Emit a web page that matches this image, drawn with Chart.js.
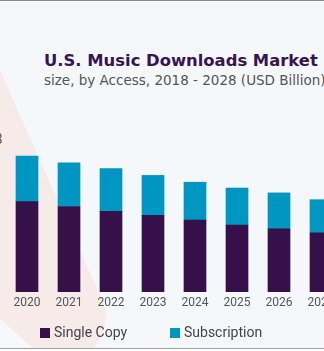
<!DOCTYPE html>
<html>
<head>
<meta charset="utf-8">
<script src="https://cdn.jsdelivr.net/npm/chart.js@4.4.1/dist/chart.umd.min.js"></script>
<style>
  html, body { margin: 0; padding: 0; }
  body { width: 324px; height: 351px; overflow: hidden; background: #fff; position: relative; }
  #frame { position: absolute; left: 0; top: 0; width: 324px; height: 349px; background: #f4f8fb;
           border-top: 1px solid #8a8a8a; border-bottom: 1px solid #a0a0a0; box-sizing: border-box; overflow: hidden; }
  #blob { position: absolute; left: -10.5px; top: -111px; width: 130px; height: 450px;
          border-radius: 0 0 45px 60px; background: #f6ebe8;
          transform-origin: 100% 100%; transform: rotate(-24deg); }
  #band { position: absolute; left: -74px; top: 251px; width: 260px; height: 120px; background: #f6f9fb;
          transform-origin: 0 0; transform: rotate(42deg); }
  #title { position: absolute; left: 44px; top: 49.5px; white-space: nowrap; line-height: 1;
           font: bold 16.4px "DejaVu Sans", sans-serif; color: #381450; }
  #subtitle { position: absolute; left: 44px; top: 71px; white-space: nowrap; line-height: 1;
              font: 13.5px "DejaVu Sans", sans-serif; color: #555; }
  #wrap { position: absolute; left: -78px; top: -1px; width: 462px; height: 348px; }
  #legend { position: absolute; top: 323px; left: 0; width: 324px; height: 16px;
            font: 14px Roboto, sans-serif; color: #444; }
  #legend span { position: absolute; top: 0; line-height: 16px; white-space: nowrap; }
  #legend i { display: inline-block; width: 10px; height: 10px; margin-right: 4px; vertical-align: -1px; }
</style>
</head>
<body>
<div id="frame">
  <div id="blob"></div>
  <div id="band"></div>
  <div id="title">U.S. Music Downloads Market</div>
  <div id="subtitle">size, by Access, 2018 - 2028 (USD Billion)</div>
  <div id="wrap"><canvas id="graph" width="462" height="348"></canvas></div>
  <div id="legend"></div>
</div>
<script>
// 年
var years = ['2018', '2019', '2020', '2021', '2022', '2023', '2024', '2025', '2026', '2027', '2028'];
// USD Billion
var singleCopy   = [1.03, 0.96, 0.93, 0.88, 0.83, 0.79, 0.74, 0.69, 0.65, 0.61, 0.57];
var subscription = [0.50, 0.47, 0.47, 0.45, 0.44, 0.41, 0.39, 0.38, 0.37, 0.34, 0.31];
var seriesNames  = ['Single Copy', 'Subscription'];
var seriesColors = ['#361049', '#0096c2'];
var labelYears   = ['2019', '2028']; // 合計値を表示する年

// 棒の上に合計値を書く
var totalLabels = {
    id: 'totalLabels',
    afterDatasetsDraw: function(chart) {
        var ctx = chart.ctx;
        var x = chart.scales.x, y = chart.scales.y;
        ctx.save();
        ctx.font = '14px Roboto';
        ctx.fillStyle = '#555';
        ctx.textAlign = 'center';
        ctx.textBaseline = 'bottom';
        labelYears.forEach(function(yr) {
            var i = years.indexOf(yr);
            var total = singleCopy[i] + subscription[i];
            ctx.fillText(total.toFixed(2), x.getPixelForValue(i) + 4, y.getPixelForValue(total) - 6);
        });
        ctx.restore();
    }
};

var ctx = document.getElementById('graph').getContext('2d');
var myChart = new Chart(ctx, {
    type: 'bar',
    data: {
        labels: years,
        datasets: [
            {
                label: seriesNames[0],
                data: singleCopy,
                backgroundColor: seriesColors[0],
                barThickness: 22
            },
            {
                label: seriesNames[1],
                data: subscription,
                backgroundColor: seriesColors[1],
                barThickness: 22
            }
        ]
    },
    options: {
        responsive: false,
        animation: false,
        layout: { padding: { top: 121, left: 0, right: 0, bottom: 33.6 } },
        plugins: {
            tooltip: { enabled: false },
            title: { display: false },
            legend: { display: false }
        },
        scales: {
            x: {
                stacked: true,
                grid: { display: false, drawTicks: false },
                border: { display: false },
                ticks: { color: '#555', font: { family: 'Roboto', size: 12 }, padding: 4 }
            },
            y: {
                stacked: true,
                display: false,
                min: 0,
                max: 1.76
            }
        }
    },
    plugins: [totalLabels]
});

// 凡例 (HTML)
var leg = document.getElementById('legend');
var legX = [40, 170];
myChart.data.datasets.forEach(function(ds, i) {
    var s = document.createElement('span');
    s.style.left = legX[i] + 'px';
    s.innerHTML = '<i style="background:' + ds.backgroundColor + '"></i>' + ds.label;
    leg.appendChild(s);
});
</script>
</body>
</html>
